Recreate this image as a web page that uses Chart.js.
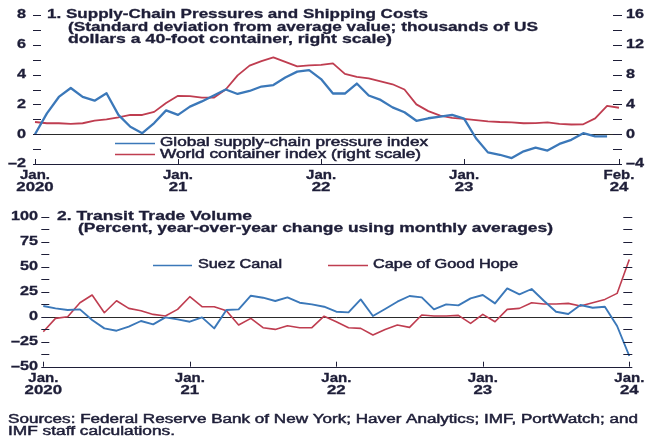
<!DOCTYPE html>
<html>
<head>
<meta charset="utf-8">
<script src="https://cdn.jsdelivr.net/npm/chart.js@4.4.1/dist/chart.umd.min.js"></script>
<style>
  html, body { margin: 0; padding: 0; background: #fff; }
  #wrap { position: relative; width: 653px; height: 440px; overflow: hidden; }
  canvas { position: absolute; left: 0; }
</style>
</head>
<body>
<div id="wrap">
  <canvas id="topChart" width="653" height="200" style="top:0"></canvas>
  <canvas id="botChart" width="653" height="240" style="top:200px"></canvas>
</div>
<script>
// monthly categories
function monthLabels(year, count) {
  const out = []
  for (let i = 0; i < count; i++) out.push(`${year + Math.floor(i / 12)}-${String(i % 12 + 1).padStart(2, '0')}`)
  return out
}
const monthsTop = monthLabels(2020, 50)   // Jan 2020 – Feb 2024
const monthsBot = monthLabels(2020, 49)   // Jan 2020 – Jan 2024

// panel 1: supply-chain pressure (std dev) and container index (thousand USD)
const gscpi = [0.0, 1.4, 2.5, 3.1, 2.5, 2.25, 2.75, 1.3, 0.5, 0.07,
  0.75, 1.6, 1.3, 1.85, 2.2, 2.6, 3.0, 2.7, 2.9, 3.2,
  3.3, 3.8, 4.2, 4.3, 3.7, 2.73, 2.73, 3.4, 2.6, 2.3,
  1.8, 1.47, 0.9, 1.07, 1.18, 1.3, 1.05, -0.27, -1.22, -1.38,
  -1.6, -1.15, -0.9, -1.1, -0.65, -0.38, 0.07, -0.15, -0.15]
const wci = [1.64, 1.47, 1.47, 1.38, 1.47, 1.82, 2.0, 2.27, 2.58, 2.58,
  3.0, 4.2, 5.15, 5.1, 4.9, 4.9, 6.0, 7.9, 9.2, 9.8,
  10.3, 9.7, 9.1, 9.25, 9.3, 9.5, 8.1, 7.7, 7.5, 7.1,
  6.7, 6.0, 4.0, 3.1, 2.5, 2.2, 2.05, 1.9, 1.73, 1.64,
  1.6, 1.47, 1.5, 1.6, 1.38, 1.3, 1.33, 2.13, 3.8, 3.55]

// panel 2: transit trade volume, yoy %
const suez = [10.7, 8.3, 6.7, 7.3, -3.3, -11.7, -14, -10, -4.3, -7.7,
  -0.7, -2.7, -5, -0.7, -11.7, 6.7, 7.3, 21, 19, 15.7,
  19.3, 14, 12.3, 10, 5, 4.3, 17.3, 0.7, 7.7, 15,
  20.7, 19.3, 7.3, 12.3, 11.3, 18.3, 21.7, 13.3, 28.3, 22.3,
  27.7, 16, 5, 2.7, 11.7, 9, 10, -9.3, -39.3]
const cape = [-15, -1.7, 0, 14, 21.7, 4, 16, 8.3, 6, 2.3,
  0.7, 7.3, 20, 10, 10, 6, -8.3, -1.7, -11, -12.7,
  -9, -11, -11, 0.5, -5, -11, -11.7, -18.3, -12.7, -8.3,
  -10.7, 1.7, 0.7, 0.7, 1.3, -6.7, 2.3, -5, 7.3, 8.3,
  14, 12.7, 12.7, 13.3, 10.7, 14, 17.3, 23.3, 57.3]

// axis ticks
const xTickIdxTop = [0, 12, 24, 36, 49]
const xTickLblTop = [['Jan.', '2020'], ['Jan.', '21'], ['Jan.', '22'], ['Jan.', '23'], ['Feb.', '24']]
const xTickIdxBot = [0, 12, 24, 36, 48]
const xTickLblBot = [['Jan.', '2020'], ['Jan.', '21'], ['Jan.', '22'], ['Jan.', '23'], ['Jan.', '24']]
const yTicksTopLeft = [8, 6, 4, 2, 0, -2]
const yTicksTopRight = [16, 12, 8, 4, 0, -4]
const yTicksBot = [100, 75, 50, 25, 0, -25, -50]

const INK = '#1e1e38'
const BLUE = '#3b78b9'
const RED = '#bf3d50'
const LABEL_FONT = 'bold 12px "Liberation Sans", Arial, sans-serif'
const TITLE_FONT = 'bold 12.5px "Liberation Sans", Arial, sans-serif'
const TEXT_FONT = '12px "Liberation Sans", Arial, sans-serif'

const fmt = (v) => (v < 0 ? '\u2013' + Math.abs(v) : String(v))

// text is wide in the source, so stretch it horizontally
function stretchText(ctx, text, x, y, { font = LABEL_FONT, align = 'left', sx = 1.3, width = null, color = INK, heavy = 0 } = {}) {
  ctx.save()
  ctx.font = font
  ctx.fillStyle = color
  ctx.strokeStyle = color
  ctx.textBaseline = 'middle'
  ctx.textAlign = 'left'
  const w = ctx.measureText(text).width
  const k = width ? width / w : sx
  let x0 = x
  if (align === 'center') x0 = x - (w * k) / 2
  else if (align === 'right') x0 = x - w * k
  ctx.translate(x0, y)
  ctx.scale(k, 1)
  ctx.fillText(text, 0, 0)
  if (heavy) {
    ctx.lineWidth = heavy
    ctx.strokeText(text, 0, 0)
  }
  ctx.restore()
}

function hline(ctx, x1, x2, y, color = INK, lw = 1) {
  ctx.save()
  ctx.strokeStyle = color
  ctx.lineWidth = lw
  ctx.beginPath()
  ctx.moveTo(x1, Math.round(y) + 0.5)
  ctx.lineTo(x2, Math.round(y) + 0.5)
  ctx.stroke()
  ctx.restore()
}

function vline(ctx, x, y1, y2, color = INK) {
  ctx.save()
  ctx.strokeStyle = color
  ctx.lineWidth = 1
  ctx.beginPath()
  ctx.moveTo(Math.round(x) + 0.5, y1)
  ctx.lineTo(Math.round(x) + 0.5, y2)
  ctx.stroke()
  ctx.restore()
}

// common pieces of both panels: zero line, bottom axis, ticks, tick labels
function axisPlugin(id, cfg) {
  return {
    id,
    beforeDatasetsDraw(chart) {
      const { ctx, chartArea: a, scales } = chart
      hline(ctx, a.left, a.right, scales.y.getPixelForValue(0), '#2a2a2a', 1)
    },
    afterDraw(chart) {
      const { ctx, chartArea: a, scales } = chart
      const { x, y } = scales
      hline(ctx, a.left, a.right + 1, a.bottom, INK, 1.2)
      cfg.xIdx.forEach((idx, i) => {
        const px = x.getPixelForValue(idx)
        vline(ctx, px, a.bottom - 5, a.bottom)
        stretchText(ctx, cfg.xLbl[i][0], px, a.bottom + 12, { align: 'center', sx: 1.25, heavy: 0.3 })
        stretchText(ctx, cfg.xLbl[i][1], px, a.bottom + 24, { align: 'center', sx: 1.4, heavy: 0.3 })
      })
      // left ticks with minor marks between labels
      const lt = cfg.leftTicks
      for (let i = 0; i < lt.length; i++) {
        const py = y.getPixelForValue(lt[i])
        hline(ctx, a.left - 2, a.left + 6, py)
        stretchText(ctx, fmt(lt[i]), cfg.leftLabelX, py, { align: 'right', sx: 1.35, heavy: 0.3 })
        if (i < lt.length - 1) {
          const pm = y.getPixelForValue((lt[i] + lt[i + 1]) / 2)
          hline(ctx, a.left - 2, a.left + 6, pm)
        }
      }
      const rs = cfg.rightScale ? scales[cfg.rightScale] : y
      const rt = cfg.rightTicks
      for (let i = 0; i < rt.length; i++) {
        const py = rs.getPixelForValue(rt[i])
        hline(ctx, a.right - 6, a.right + 3, py)
        if (cfg.rightLabels) stretchText(ctx, fmt(rt[i]), a.right + 7, py, { align: 'left', sx: 1.35, heavy: 0.3 })
        if (i < rt.length - 1) {
          const pm = rs.getPixelForValue((rt[i] + rt[i + 1]) / 2)
          hline(ctx, a.right - 6, a.right + 3, pm)
        }
      }
      cfg.extra(ctx)
    },
  }
}

const hiddenAxis = { display: false }

const topDecor = axisPlugin('topDecor', {
  xIdx: xTickIdxTop,
  xLbl: xTickLblTop,
  leftTicks: yTicksTopLeft,
  leftLabelX: 26,
  rightScale: 'y1',
  rightTicks: yTicksTopRight,
  rightLabels: true,
  extra(ctx) {
    stretchText(ctx, '1. Supply-Chain Pressures and Shipping Costs', 47, 15, { font: TITLE_FONT, width: 381, heavy: 0.3 })
    stretchText(ctx, '(Standard deviation from average value; thousands of US', 68, 27.5, { font: TITLE_FONT, width: 470, heavy: 0.3 })
    stretchText(ctx, 'dollars a 40-foot container, right scale)', 68, 40, { font: TITLE_FONT, width: 324, heavy: 0.3 })
    hline(ctx, 115, 155, 142.5, BLUE, 1.5)
    hline(ctx, 115, 155, 154, RED, 1.5)
    stretchText(ctx, 'Global supply-chain pressure index', 160, 143, { font: TEXT_FONT, width: 268, heavy: 0.5 })
    stretchText(ctx, 'World container index (right scale)', 160, 155, { font: TEXT_FONT, width: 261, heavy: 0.5 })
  },
})

const botDecor = axisPlugin('botDecor', {
  xIdx: xTickIdxBot,
  xLbl: xTickLblBot,
  leftTicks: yTicksBot,
  leftLabelX: 38,
  rightScale: null,
  rightTicks: yTicksBot,
  rightLabels: false,
  extra(ctx) {
    stretchText(ctx, '2. Transit Trade Volume', 57, 16.7, { font: TITLE_FONT, width: 195, heavy: 0.3 })
    stretchText(ctx, '(Percent, year-over-year change using monthly averages)', 78, 29, { font: TITLE_FONT, width: 475, heavy: 0.3 })
    hline(ctx, 153, 192, 65, BLUE, 1.5)
    stretchText(ctx, 'Suez Canal', 198, 65, { font: TEXT_FONT, width: 84, heavy: 0.5 })
    hline(ctx, 328, 368, 65, RED, 1.5)
    stretchText(ctx, 'Cape of Good Hope', 373, 65, { font: TEXT_FONT, width: 145, heavy: 0.5 })
    stretchText(ctx, 'Sources: Federal Reserve Bank of New York; Haver Analytics; IMF, PortWatch; and', 8, 220, { font: TEXT_FONT, width: 630, heavy: 0.45 })
    stretchText(ctx, 'IMF staff calculations.', 8, 232, { font: TEXT_FONT, width: 167, heavy: 0.45 })
  },
})

const lineStyle = { pointRadius: 0, tension: 0, fill: false, borderJoinStyle: 'round' }

new Chart(document.getElementById('topChart'), {
  type: 'line',
  data: {
    labels: monthsTop,
    datasets: [
      { label: 'Global supply-chain pressure index', data: gscpi, yAxisID: 'y', borderColor: BLUE, borderWidth: 2.3, ...lineStyle },
      { label: 'World container index (right scale)', data: wci, yAxisID: 'y1', borderColor: RED, borderWidth: 1.8, ...lineStyle },
    ],
  },
  options: {
    responsive: false,
    animation: false,
    layout: { padding: { left: 35, right: 34, top: 15, bottom: 36 } },
    plugins: { legend: { display: false }, tooltip: { enabled: false } },
    scales: {
      x: { type: 'category', offset: false, ...hiddenAxis },
      y: { min: -2, max: 8, position: 'left', ...hiddenAxis },
      y1: { min: -4, max: 16, position: 'right', ...hiddenAxis },
    },
  },
  plugins: [topDecor],
})

new Chart(document.getElementById('botChart'), {
  type: 'line',
  data: {
    labels: monthsBot,
    datasets: [
      { label: 'Suez Canal', data: suez, borderColor: BLUE, borderWidth: 1.9, ...lineStyle },
      { label: 'Cape of Good Hope', data: cape, borderColor: RED, borderWidth: 1.6, ...lineStyle },
    ],
  },
  options: {
    responsive: false,
    animation: false,
    layout: { padding: { left: 43.3, right: 23.7, top: 16.7, bottom: 73.3 } },
    plugins: { legend: { display: false }, tooltip: { enabled: false } },
    scales: {
      x: { type: 'category', offset: false, ...hiddenAxis },
      y: { min: -50, max: 100, position: 'left', ...hiddenAxis },
    },
  },
  plugins: [botDecor],
})
</script>
</body>
</html>
